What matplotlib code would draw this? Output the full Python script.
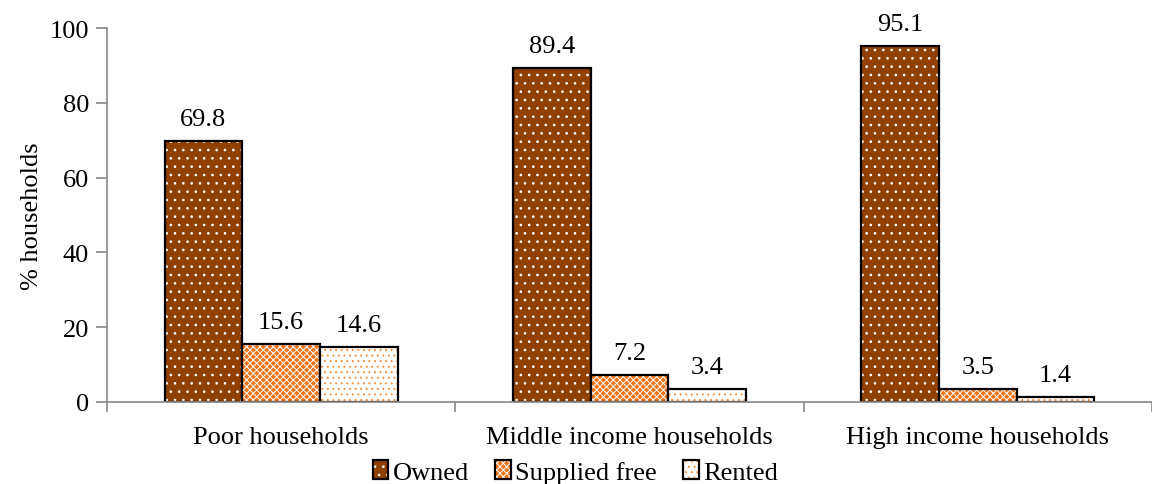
import matplotlib.pyplot as plt
import numpy as np
from matplotlib.patches import Patch

plt.rcParams['font.family'] = ['Liberation Serif', 'DejaVu Serif']
plt.rcParams['hatch.linewidth'] = 0.7

groups = ['Poor households', 'Middle income households', 'High income households']
series = ['Owned', 'Supplied free', 'Rented']
owned = [69.8, 89.4, 95.1]
supplied = [15.6, 7.2, 3.5]
rented = [14.6, 3.4, 1.4]

faces = ['#924000', '#EE7418', 'white']
hatch_cols = ['white', 'white', '#F5913A']
hatches = ['..', 'xxxxx', '...']
fs = 19

fig = plt.figure(figsize=(11.52, 4.85), dpi=100)
ax = fig.add_axes([107 / 1152, 82 / 485, (1152 - 107) / 1152, 374 / 485])

x = np.arange(len(groups))
w = 0.223
for i, vals in enumerate([owned, supplied, rented]):
    pos = x + (i - 1) * w
    ax.bar(pos, vals, w, color=faces[i], hatch=hatches[i], edgecolor=hatch_cols[i], linewidth=0)
    ax.bar(pos, vals, w, fill=False, edgecolor='black', linewidth=1.6)
    for p, v in zip(pos, vals):
        ax.annotate(f'{v}', (p, v), xytext=(0, 8), textcoords='offset points',
                    ha='center', va='bottom', fontsize=fs)

# legend: hatch layer + black outline layered
handles = [(Patch(facecolor=faces[i], hatch=hatches[i], edgecolor=hatch_cols[i], linewidth=0),
            Patch(fill=False, edgecolor='black', linewidth=1.6)) for i in range(3)]
ax.legend(handles, series, loc='upper center', bbox_to_anchor=(0.5 - 0.052, -0.155), ncol=3,
          frameon=False, fontsize=fs, handlelength=0.6, handleheight=0.75,
          handletextpad=0.15, columnspacing=1.0, borderaxespad=0, borderpad=0)

ax.set_xlim(-0.5, -0.5 + (1152 - 107) / 351.5)
ax.set_ylim(0, 100)
ax.set_yticks(range(0, 101, 20))
ax.set_xticks(x)
ax.set_xticklabels(groups)
ax.set_xticks([-0.5, 0.5, 1.5, 2.5], minor=True)
ax.tick_params(axis='x', which='major', length=0, pad=17, labelsize=fs)
ax.tick_params(axis='x', which='minor', length=7, color='#888888', width=1.2, direction='out')
ax.tick_params(axis='y', length=8, color='#888888', width=1.2, labelsize=fs, pad=5)
ax.set_ylabel('% households', fontsize=fs, labelpad=5)

for s in ['top', 'right']:
    ax.spines[s].set_visible(False)
for s in ['left', 'bottom']:
    ax.spines[s].set_color('#888888')
    ax.spines[s].set_linewidth(1.2)

fig.savefig('out.png', dpi=100)
